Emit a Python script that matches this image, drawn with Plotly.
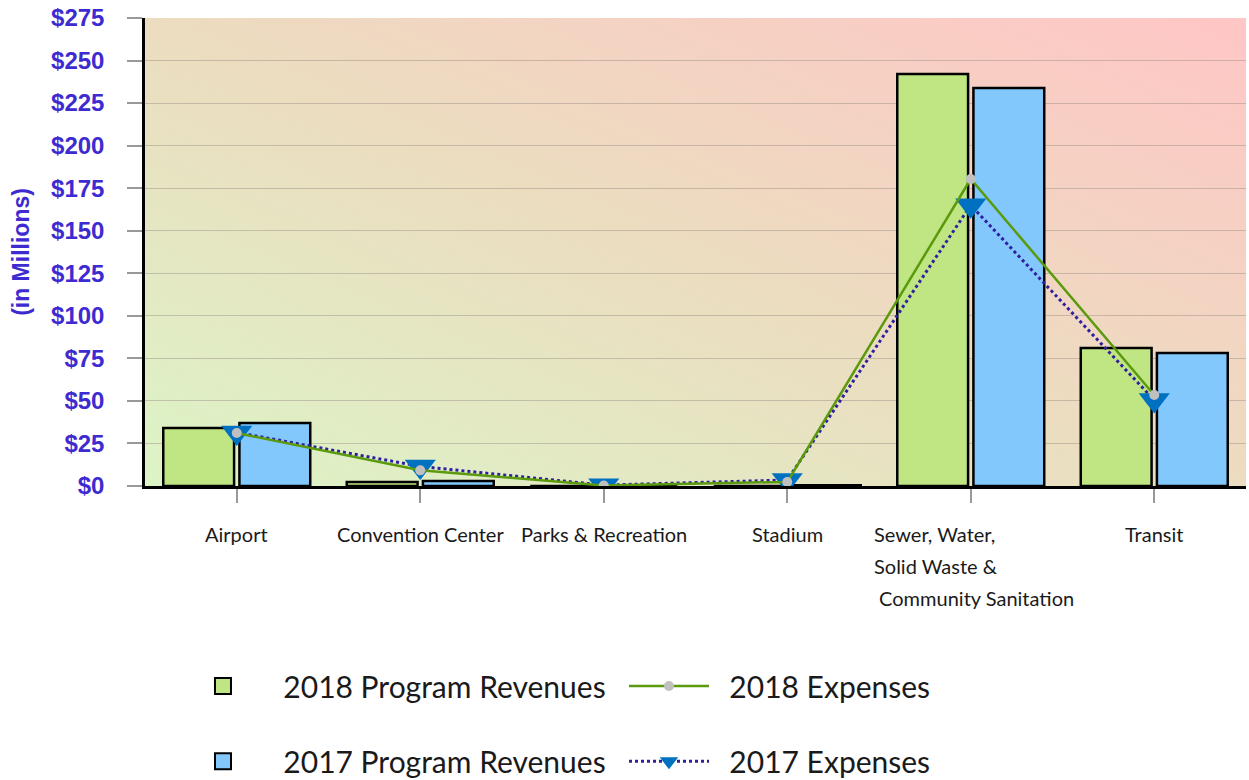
import base64
import plotly.graph_objects as go

categories = ["Airport", "Convention Center", "Parks & Recreation", "Stadium",
              "Sewer, Water, Solid Waste & Community Sanitation", "Transit"]
category_lines = [["Airport"], ["Convention Center"], ["Parks & Recreation"], ["Stadium"],
                  ["Sewer, Water,", "Solid Waste &", " Community Sanitation"], ["Transit"]]

rev_2018 = [34.1, 2.4, 0, 0, 242.1, 81.1]
rev_2017 = [37.0, 2.9, 0, 0.4, 233.9, 78.2]
exp_2018 = [31.1, 9.2, 0.3, 2.4, 180.4, 53.5]
exp_2017 = [31.5, 11.5, 0.5, 3.5, 165.0, 50.5]

y_ticks = list(range(0, 276, 25))
y_ticktext = ["$" + str(v) for v in y_ticks]

BLUE_TXT = "#3d2bd1"
GREEN_BAR = "#c0e684"
BLUE_BAR = "#82c8fc"
PAD = "\u00a0\u00a0"

# diagonal gradient background for the plot area
svg = ('<svg xmlns="http://www.w3.org/2000/svg" width="1101" height="468" preserveAspectRatio="none">'
       '<defs><linearGradient id="g" x1="0" y1="1" x2="1" y2="0">'
       '<stop offset="0" stop-color="#dcf4c6"/><stop offset="0.5" stop-color="#ecdcc0"/>'
       '<stop offset="1" stop-color="#ffc6c6"/></linearGradient></defs>'
       '<rect width="100%" height="100%" fill="url(#g)"/></svg>')
bg_src = "data:image/svg+xml;base64," + base64.b64encode(svg.encode()).decode()

fig = go.Figure()

fig.add_trace(go.Bar(
    x=categories, y=rev_2018, name="2018 Program Revenues", showlegend=False,
    marker=dict(color=GREEN_BAR, line=dict(color="black", width=2.5)),
))
fig.add_trace(go.Bar(
    x=categories, y=rev_2017, name="2017 Program Revenues", showlegend=False,
    marker=dict(color=BLUE_BAR, line=dict(color="black", width=2.5)),
))
fig.add_trace(go.Scatter(
    x=categories, y=exp_2017, name="2017 Expenses", mode="lines+markers", showlegend=False,
    line=dict(color="#2e1fa0", width=3, dash="dot"),
    marker=dict(symbol="triangle-down", size=27, color="#0070c0"),
))
fig.add_trace(go.Scatter(
    x=categories, y=exp_2018, name="2018 Expenses", mode="lines+markers", showlegend=False,
    line=dict(color="#5a9a0c", width=2.5),
    marker=dict(symbol="circle", size=10, color="#c0c0c0"),
))

# legend entries (bigger square swatches than the bar default)
fig.add_trace(go.Scatter(
    x=[None], y=[None], mode="markers", name=PAD + "2018 Program Revenues", legend="legend",
    marker=dict(symbol="square", size=16, color=GREEN_BAR, line=dict(color="black", width=2)),
))
fig.add_trace(go.Scatter(
    x=[None], y=[None], mode="lines+markers", name=PAD + "2018 Expenses", legend="legend",
    line=dict(color="#5a9a0c", width=2.5),
    marker=dict(symbol="circle", size=10, color="#c0c0c0"),
))
fig.add_trace(go.Scatter(
    x=[None], y=[None], mode="markers", name=PAD + "2017 Program Revenues", legend="legend2",
    marker=dict(symbol="square", size=16, color=BLUE_BAR, line=dict(color="black", width=2)),
))
fig.add_trace(go.Scatter(
    x=[None], y=[None], mode="lines+markers", name=PAD + "2017 Expenses", legend="legend2",
    line=dict(color="#2e1fa0", width=3, dash="dot"),
    marker=dict(symbol="triangle-down", size=16, color="#0070c0"),
))

# category labels
for cat, lines in zip(categories, category_lines):
    multi = len(lines) > 1
    for i, txt in enumerate(lines):
        fig.add_annotation(
            x=cat, y=0, xref="x", yref="y", text=txt, showarrow=False,
            xanchor="left" if multi else "center", yanchor="middle",
            xshift=-99 if multi else 0, yshift=-48 - 32 * i,
            font=dict(family="Lato", size=20, color="#1a1a1a"),
        )

legend_common = dict(
    orientation="h", xanchor="left", yanchor="middle",
    xref="container", yref="container",
    font=dict(family="Lato", size=30, color="#1a1a1a"),
    bgcolor="rgba(0,0,0,0)", entrywidth=351, entrywidthmode="pixels",
    itemwidth=80,
)

fig.update_layout(
    width=1249, height=780,
    margin=dict(l=145, r=3, t=18, b=294, autoexpand=False),
    paper_bgcolor="white", plot_bgcolor="rgba(0,0,0,0)",
    barmode="group", bargap=0.17, bargroupgap=0.07,
    images=[dict(source=bg_src, xref="paper", yref="paper", x=0, y=1,
                 sizex=1, sizey=1, sizing="stretch", layer="below")],
    legend=dict(x=0.1425, y=0.1205, **legend_common),
    legend2=dict(x=0.1425, y=0.024, **legend_common),
    xaxis=dict(
        showticklabels=False, ticks="outside", ticklen=14, tickcolor="#999999", tickwidth=1.5,
        showline=True, linecolor="black", linewidth=2.5, showgrid=False, automargin=False,
    ),
    yaxis=dict(
        range=[0, 275], tickvals=y_ticks, ticktext=y_ticktext, automargin=False,
        ticks="outside", ticklen=15, tickcolor="#999999", tickwidth=1.5,
        ticklabelstandoff=18,
        tickfont=dict(family="Arial", size=24, color=BLUE_TXT, weight="bold"),
        showline=True, linecolor="black", linewidth=2.5,
        showgrid=True, gridcolor="rgba(150,140,130,0.45)", gridwidth=1,
        zeroline=False,
        title=dict(text="(in Millions)", standoff=16,
                   font=dict(family="Arial", size=23, color=BLUE_TXT, weight="bold")),
    ),
)

# drop the default page margin so the figure fills the window exactly
fig.write_html("out.html", config={"displayModeBar": False},
               post_script="document.body.style.margin='0';")
